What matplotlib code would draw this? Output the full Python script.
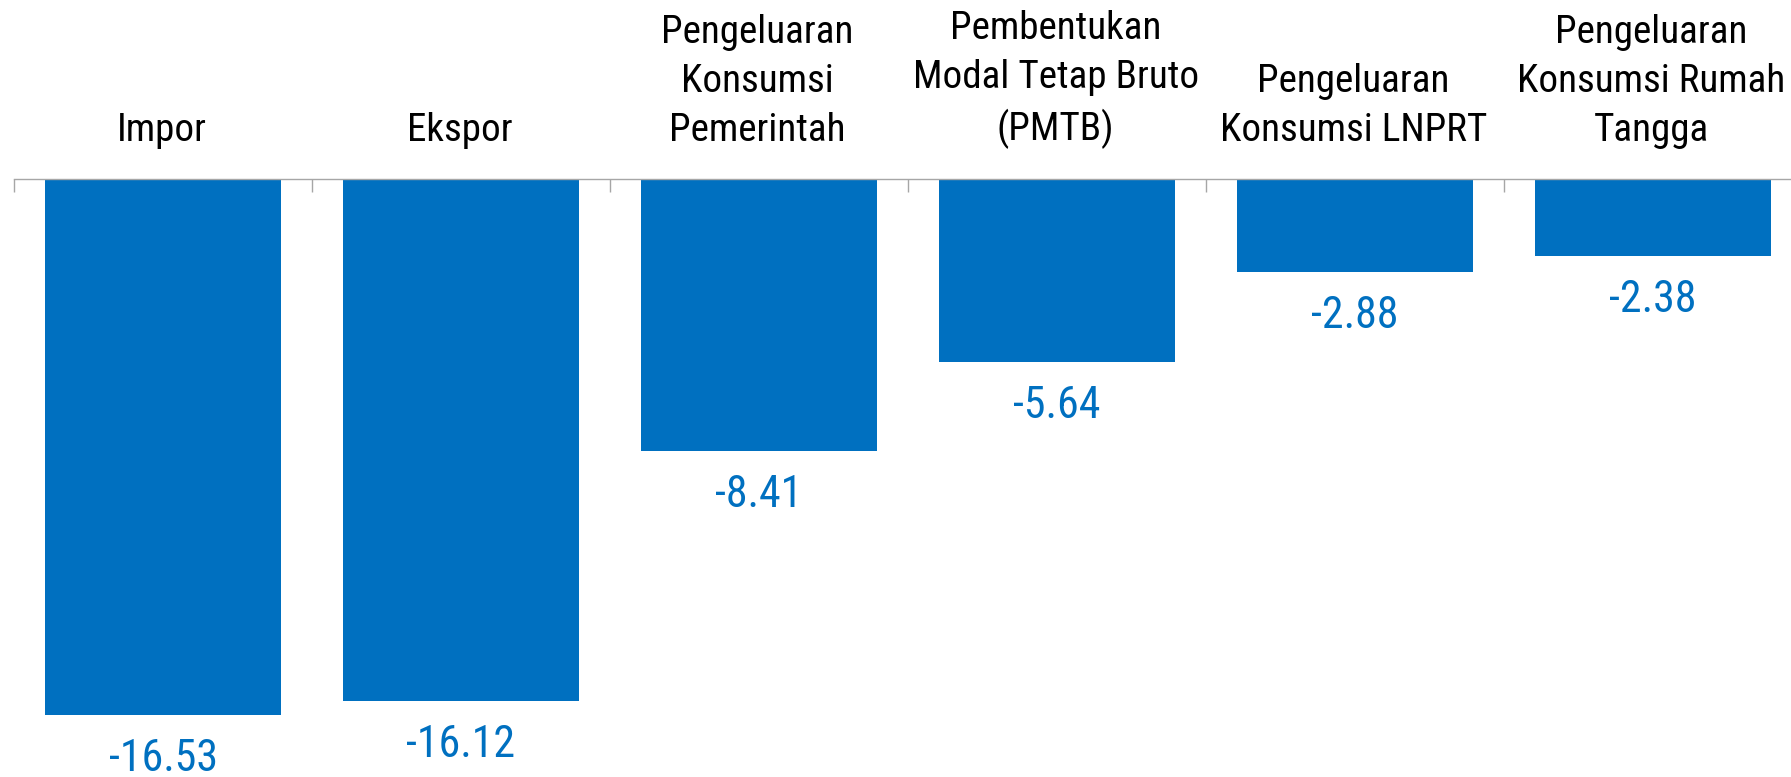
import matplotlib
matplotlib.use("Agg")
import matplotlib.pyplot as plt
from matplotlib import font_manager
from matplotlib.font_manager import FontProperties

categories = [
    "Impor",
    "Ekspor",
    "Pengeluaran\nKonsumsi\nPemerintah",
    "Pembentukan\nModal Tetap Bruto\n(PMTB)",
    "Pengeluaran\nKonsumsi LNPRT",
    "Pengeluaran\nKonsumsi Rumah\nTangga",
]
values = [-16.53, -16.12, -8.41, -5.64, -2.88, -2.38]
value_labels = ["-16.53", "-16.12", "-8.41", "-5.64", "-2.88", "-2.38"]

# prefer an Arial-Narrow-like face
names = {f.name for f in font_manager.fontManager.ttflist}
prefs = ["Arial Narrow", "Liberation Sans Narrow", "Nimbus Sans Narrow",
         "Helvetica Narrow", "Roboto Condensed", "Open Sans Condensed",
         "PT Sans Narrow", "Archivo Narrow"]
narrow = next((p for p in prefs if p in names), None)
FAM = ([narrow] if narrow else []) + ["Liberation Sans", "DejaVu Sans"]
plt.rcParams["font.family"] = FAM

BLUE = "#0070C0"
W, H, DPI = 1791, 777, 100
fig = plt.figure(figsize=(W / DPI, H / DPI), dpi=DPI)
renderer = fig.canvas.get_renderer()


def measure(s, size):
    fp = FontProperties(family=FAM, size=size)
    w, h, d = renderer.get_text_width_height_descent(s, fp, ismath=False)
    return w, h, d


# size fonts so that text widths match the reference (pixels)
w30, _, _ = measure("Modal Tetap Bruto", 30)
CAT_FS = 30 * 286 / w30
w30v, _, _ = measure("-16.53", 30)
VAL_FS = 30 * 109 / w30v
_, lp_h, lp_d = measure("lp", CAT_FS)
# baseline-to-baseline distance = (h - d) * LS + d  -> target 49 px
LS = (49.0 - lp_d) / (lp_h - lp_d)
px2pt = 72.0 / DPI

ax = fig.add_axes([14 / W, 0, 1788 / W, 1])

x = list(range(len(categories)))
ax.bar(x, values, width=0.79, color=BLUE, zorder=2)

ax.set_xlim(-0.5, len(categories) - 0.5)
ax.set_ylim(-(H - 179) / 32.4, 179 / 32.4)

for s in ["top", "right", "left"]:
    ax.spines[s].set_visible(False)
ax.spines["bottom"].set_position(("data", 0))
ax.spines["bottom"].set_color("#A6A6A6")
ax.spines["bottom"].set_linewidth(1.0)
ax.spines["bottom"].set_zorder(3)
ax.set_yticks([])
ax.set_xticks([i - 0.5 for i in range(len(categories) + 1)])
ax.set_xticklabels([])
ax.tick_params(axis="x", direction="out", length=9, width=1.0, color="#A6A6A6")

# last-line baseline ~38 px above the axis
cat_off = (38 - lp_d) * px2pt
for xi, cat in zip(x, categories):
    ax.annotate(cat, (xi, 0), xytext=(-1, cat_off), textcoords="offset points",
                ha="center", va="bottom", fontsize=CAT_FS, color="black",
                linespacing=LS, multialignment="center")

for xi, v, lab in zip(x, values, value_labels):
    ax.annotate(lab, (xi, v), xytext=(0, -56 * px2pt), textcoords="offset points",
                ha="center", va="baseline", fontsize=VAL_FS, color=BLUE)

fig.savefig("out.png", dpi=DPI)
